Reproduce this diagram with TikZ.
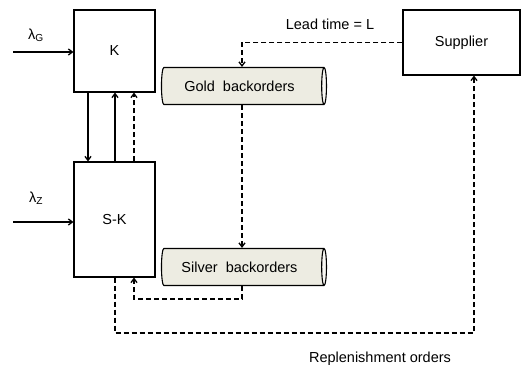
\documentclass[tikz,border=0pt]{standalone}
\usepackage{fontspec}
\setmainfont{Liberation Sans}
\usetikzlibrary{shapes.geometric,arrows.meta}
\definecolor{cylfill}{RGB}{237,236,226}
\begin{document}
\begin{tikzpicture}[x=1pt,y=-1pt,
  font=\fontsize{14.5}{17}\selectfont,
  box/.style={draw,line width=1.1pt,inner sep=0pt},
  tank/.style={draw,line width=1.1pt,cylinder,shape aspect=0.45,
    cylinder uses custom fill,cylinder body fill=cylfill,cylinder end fill=white!60!cylfill,
    minimum width=37pt,minimum height=165pt,inner sep=0pt},
  flow/.style={line width=1.3pt,-{Straight Barb[length=4pt,width=6pt]}},
  dflow/.style={flow,dash pattern=on 5pt off 3pt}]
\useasboundingbox (0,0) rectangle (526,366);
\node[box,minimum width=81pt,minimum height=82pt] (K) at (114.5,51) {K};
\node[box,minimum width=81pt,minimum height=115pt] (SK) at (114.5,219.5) {S-K};
\node[box,minimum width=117pt,minimum height=65pt] (sup) at (461.5,42.5) {Supplier};
\node[tank] (gold) at (242.5,86) {\hspace*{-6pt}Gold\ \ backorders};
\node[tank] (silver) at (242.5,267) {\hspace*{-6pt}Silver\ \ backorders};
\node (lead) at (330,24) {Lead time = L};
\node (rep) at (380,359) {Replenishment orders};
\node (lg) at (36,35) {λ\textsubscript{G}};
\node (lz) at (36,198) {λ\textsubscript{Z}};
\coordinate (inG) at (13,52);
\coordinate (inZ) at (13,222);
\draw[flow] (inG) -- (K.west |- inG);
\draw[flow] (inZ) -- (SK.west |- inZ);
\draw[flow] (K.south -| 88,0) -- (SK.north -| 88,0);
\draw[flow] (SK.north -| 115,0) -- (K.south -| 115,0);
\draw[dflow] (SK.north -| 134,0) -- (K.south -| 134,0);
\draw[dflow] (sup.west) -- (242,42.5) -- (gold.north -| 242,0);
\draw[dflow] (gold.south -| 242,0) -- (silver.north -| 242,0);
\draw[dflow] (silver.south -| 242,0) -- (242,299) -- (134,299) -- (SK.south -| 134,0);
\draw[dflow] (SK.south -| 115,0) -- (115,333) -- (474,333) -- (sup.south -| 474,0);
\end{tikzpicture}
\end{document}
